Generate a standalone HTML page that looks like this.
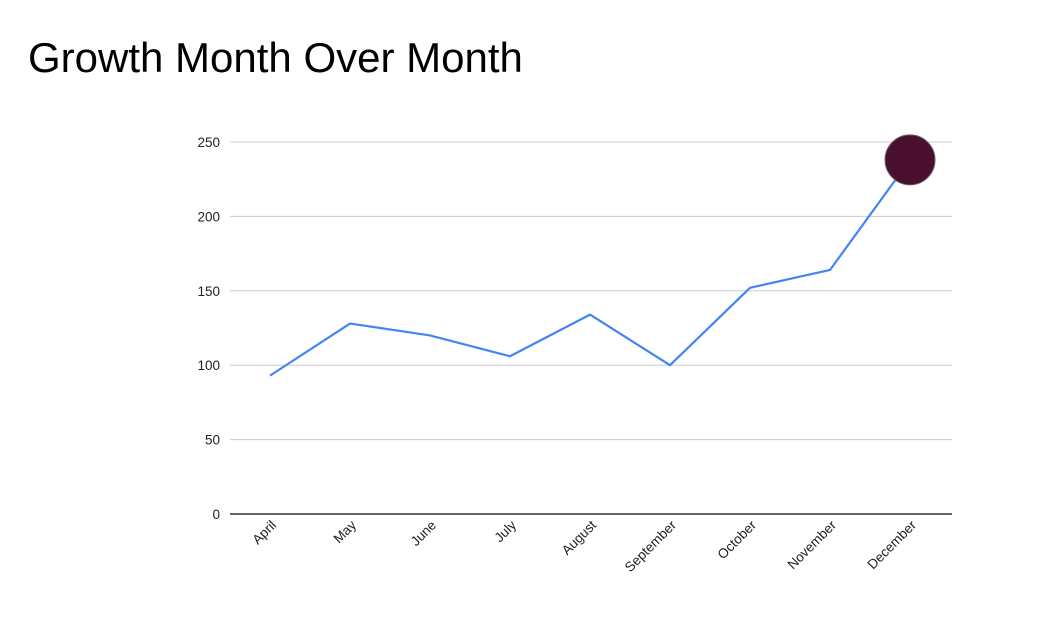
<!DOCTYPE html>
<html><head><meta charset="utf-8"><style>
body{margin:0;background:#fff;width:1047px;height:624px;overflow:hidden;font-family:"Liberation Sans",Arial,sans-serif}
</style></head><body>
<svg width="1047" height="624">
<text x="28" y="72" font-size="42" fill="#000">Growth Month Over Month</text>
<g id="grid"></g><g id="xl"></g><g id="line"></g>
</svg>
<script>
const categories=["April","May","June","July","August","September","October","November","December"];
const values=[93,128,120,106,134,100,152,164,238];
const yTicks=[0,50,100,150,200,250];
const NS="http://www.w3.org/2000/svg";
const x0=270,step=80,yBase=514,yTop=142,yMax=250;
const xs=i=>x0+i*step, ys=v=>yBase-(v/yMax)*(yBase-yTop);
function mk(t,a,p){const e=document.createElementNS(NS,t);for(const k in a)e.setAttribute(k,a[k]);p.appendChild(e);return e;}
const g=document.getElementById('grid');
yTicks.forEach(t=>{
 const l=mk('line',{x1:230,x2:952,y1:ys(t),y2:ys(t),stroke:t===0?'#333':'#ccc','stroke-width':t===0?1.5:1},g);
 
 
 const tx=mk('text',{x:220,y:ys(t)+5,'text-anchor':'end','font-size':13.5,fill:'#222'},g);
 tx.textContent=t;
 
 
});
const xl=document.getElementById('xl');
categories.forEach((c,i)=>{
 const x=xs(i)+7,y=526;
 const t=mk('text',{x:x,y:y,'text-anchor':'end','font-size':13.5,fill:'#222',transform:`rotate(-45 ${x} ${y})`},xl);
 t.textContent=c;
 
 
});
const lg=document.getElementById('line');
const p=mk('polyline',{points:values.map((v,i)=>xs(i)+','+ys(v)).join(' '),fill:'none',stroke:'#4285f4','stroke-width':2.2,'stroke-linejoin':'round'},lg);


const last=values.length-1;
const c=mk('circle',{cx:xs(last),cy:ys(values[last]),r:25,fill:'#4a0e2e',stroke:'#666','stroke-width':1},lg);


</script>
</body></html>
